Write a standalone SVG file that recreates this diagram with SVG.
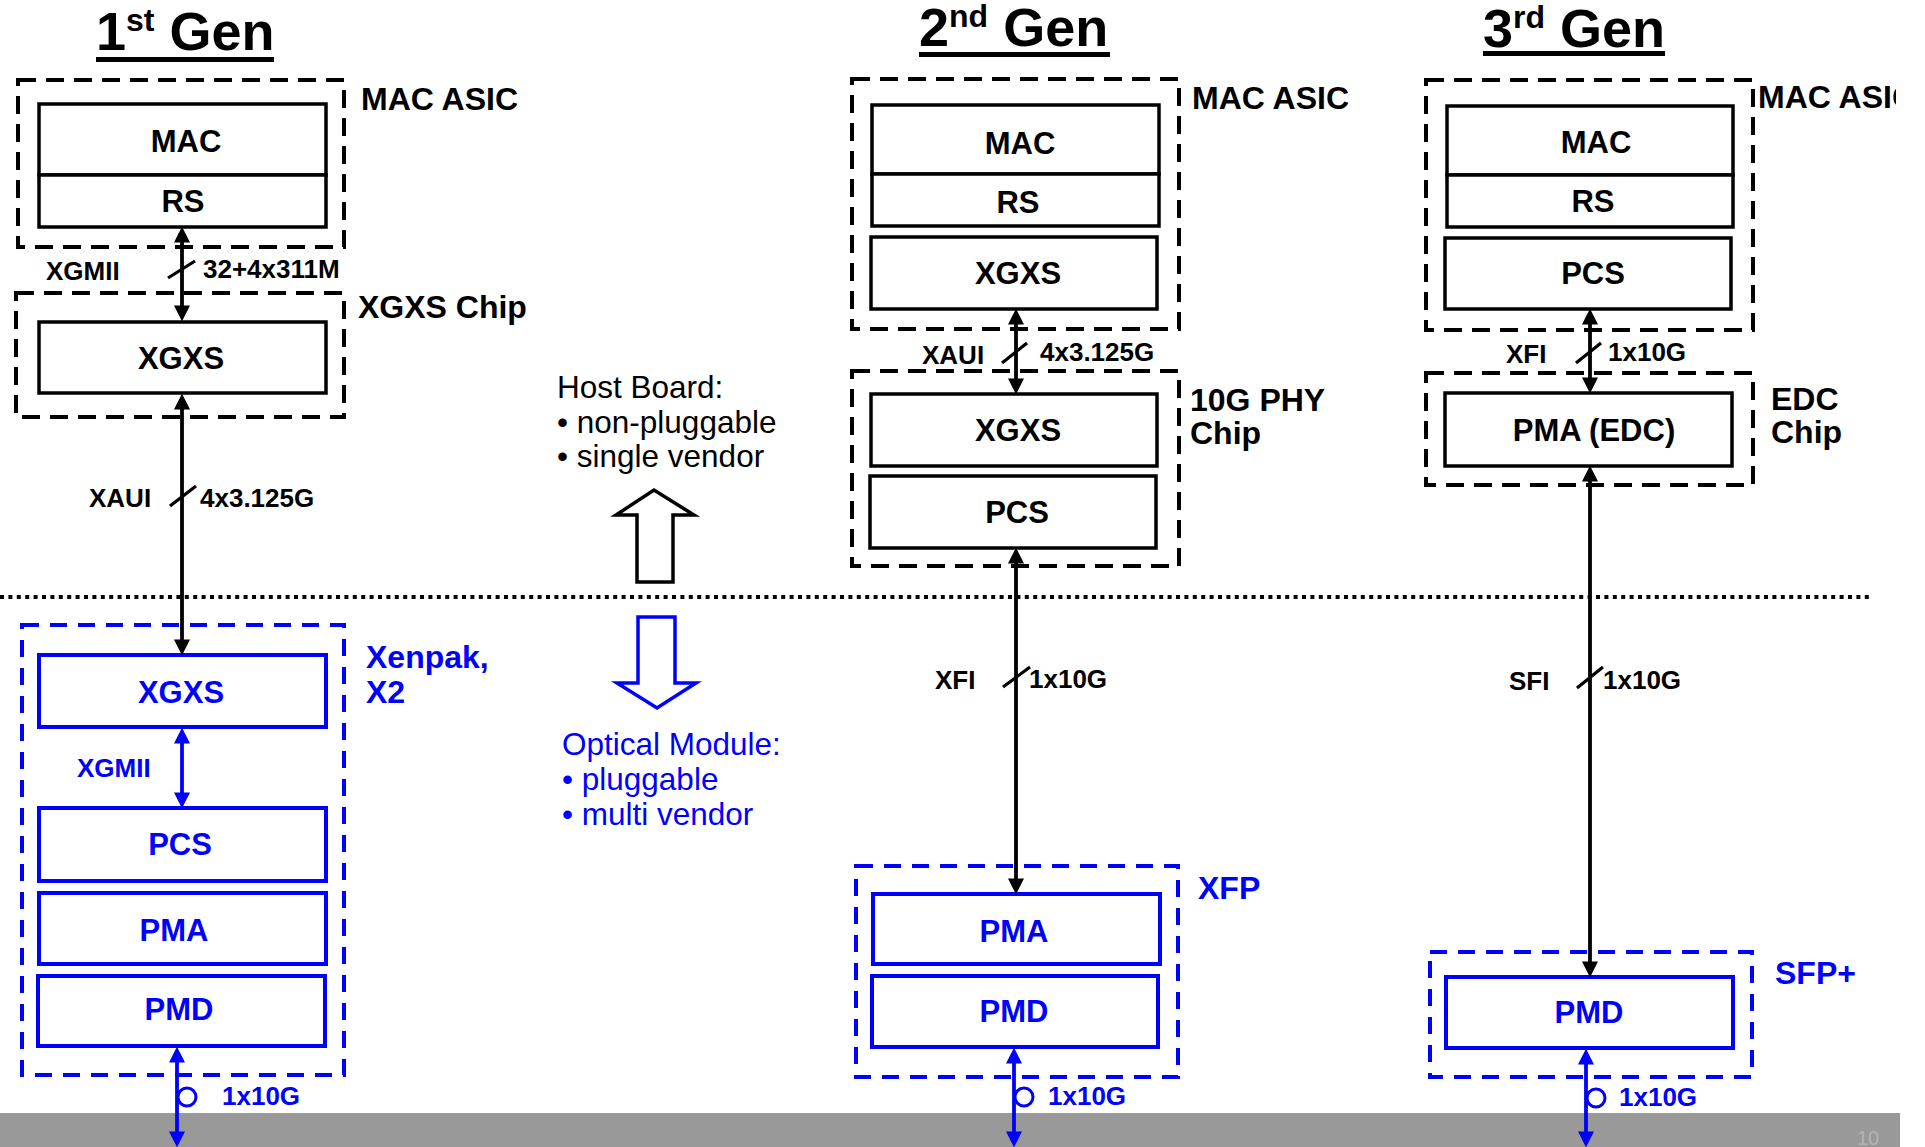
<svg xmlns="http://www.w3.org/2000/svg" width="1925" height="1147" viewBox="0 0 1925 1147">
<style>
text{font-family:"Liberation Sans",Arial,Helvetica,sans-serif}
.b{font-weight:bold}
.box{fill:#fff;stroke:#000;stroke-width:3.5}
.bbox{fill:#fff;stroke:#0000ff;stroke-width:4}
.dash{fill:none;stroke:#000;stroke-width:4;stroke-dasharray:18 10}
.bdash{fill:none;stroke:#0000ff;stroke-width:4;stroke-dasharray:17 11}
.lbl{font-size:31px;font-weight:bold;text-anchor:middle;fill:#000}
.blbl{font-size:31px;font-weight:bold;text-anchor:middle;fill:#0000ff}
.grp{font-size:32px;font-weight:bold;fill:#000}
.bgrp{font-size:32px;font-weight:bold;fill:#0000ff}
.ifc{font-size:26px;font-weight:bold;fill:#000}
.bifc{font-size:26px;font-weight:bold;fill:#0000ff}
.title{font-size:54px;font-weight:bold;fill:#000}
.conn{stroke:#000;stroke-width:3.8;fill:none;marker-start:url(#ah);marker-end:url(#ah)}
.bconn{stroke:#0000ff;stroke-width:3.8;fill:none;marker-start:url(#bah);marker-end:url(#bah)}
.slash{stroke:#000;stroke-width:3.2}
.ring{fill:#fff;stroke:#0000ff;stroke-width:3}
.note{font-size:31.5px;fill:#000}
.bnote{font-size:31.5px;fill:#0000ff}
</style>
<defs>
<marker id="ah" markerUnits="userSpaceOnUse" markerWidth="16" markerHeight="16" viewBox="0 0 15 15" refX="9" refY="7.5" orient="auto-start-reverse"><path d="M0,0 L15,7.5 L0,15 z" fill="#000"/></marker>
<marker id="bah" markerUnits="userSpaceOnUse" markerWidth="16" markerHeight="16" viewBox="0 0 15 15" refX="9" refY="7.5" orient="auto-start-reverse"><path d="M0,0 L15,7.5 L0,15 z" fill="#0000ff"/></marker>
<clipPath id="pageclip"><rect x="0" y="0" width="1896" height="1147"/></clipPath>
</defs>
<rect x="0" y="0" width="1925" height="1147" fill="#fff"/>
<rect id="footer" x="0" y="1113" width="1900" height="34" fill="#999999"/>
<text x="1857" y="1145" font-size="20" fill="#b4b4b4">10</text>

<!-- titles -->
<g id="title1">
<text class="title" x="96" y="50">1<tspan font-size="32" dy="-19">st</tspan><tspan dy="19"> Gen</tspan></text>
<rect x="96" y="57" width="178" height="5" fill="#000"/>
</g>
<g id="title2">
<text class="title" x="919" y="46">2<tspan font-size="32" dy="-19">nd</tspan><tspan dy="19"> Gen</tspan></text>
<rect x="919" y="52" width="191" height="5" fill="#000"/>
</g>
<g id="title3">
<text class="title" x="1483" y="47">3<tspan font-size="32" dy="-19">rd</tspan><tspan dy="19"> Gen</tspan></text>
<rect x="1483" y="51" width="182" height="5" fill="#000"/>
</g>

<!-- separator -->
<line id="separator" x1="0" y1="597" x2="1870" y2="597" stroke="#000" stroke-width="4" stroke-dasharray="4 4.4"/>

<!-- ========== 1st Gen ========== -->
<g id="g1-mac-asic">
<rect class="dash" x="18" y="80" width="326" height="167"/>
<text class="grp" x="361" y="110">MAC ASIC</text>
</g>
<g id="g1-mac"><rect class="box" x="39" y="104" width="287" height="71"/><text class="lbl" x="186" y="152">MAC</text></g>
<g id="g1-rs"><rect class="box" x="39" y="175" width="287" height="52"/><text class="lbl" x="183" y="212">RS</text></g>

<g id="g1-xgxs-chip">
<rect class="dash" x="16" y="293" width="328" height="124"/>
<text class="grp" x="358" y="318">XGXS Chip</text>
</g>
<g id="g1-xgxs"><rect class="box" x="39" y="322" width="287" height="71"/><text class="lbl" x="181" y="369">XGXS</text></g>

<g id="g1-xenpak">
<rect class="bdash" x="22" y="625" width="322" height="450"/>
<text class="bgrp" x="366" y="668">Xenpak,</text>
<text class="bgrp" x="366" y="703">X2</text>
</g>
<g id="g1-xgxs-mod"><rect class="bbox" x="39" y="655" width="287" height="72"/><text class="blbl" x="181" y="703">XGXS</text></g>
<g id="g1-pcs"><rect class="bbox" x="39" y="808" width="287" height="73"/><text class="blbl" x="180" y="855">PCS</text></g>
<g id="g1-pma"><rect class="bbox" x="39" y="893" width="287" height="71"/><text class="blbl" x="174" y="941">PMA</text></g>
<g id="g1-pmd"><rect class="bbox" x="38" y="976" width="287" height="70"/><text class="blbl" x="179" y="1020">PMD</text></g>

<!-- ========== 2nd Gen ========== -->
<g id="g2-mac-asic">
<rect class="dash" x="852" y="79" width="327" height="250"/>
<text class="grp" x="1192" y="109">MAC ASIC</text>
</g>
<g id="g2-mac"><rect class="box" x="872" y="105" width="287" height="69"/><text class="lbl" x="1020" y="154">MAC</text></g>
<g id="g2-rs"><rect class="box" x="872" y="174" width="287" height="52"/><text class="lbl" x="1018" y="213">RS</text></g>
<g id="g2-xgxs-mac"><rect class="box" x="871" y="237" width="286" height="72"/><text class="lbl" x="1018" y="284">XGXS</text></g>

<g id="g2-phy-chip">
<rect class="dash" x="852" y="371" width="327" height="195"/>
<text class="grp" x="1190" y="411">10G PHY</text>
<text class="grp" x="1190" y="444">Chip</text>
</g>
<g id="g2-xgxs-phy"><rect class="box" x="871" y="394" width="286" height="72"/><text class="lbl" x="1018" y="441">XGXS</text></g>
<g id="g2-pcs"><rect class="box" x="870" y="476" width="286" height="72"/><text class="lbl" x="1017" y="523">PCS</text></g>

<g id="g2-xfp">
<rect class="bdash" x="856" y="866" width="322" height="211"/>
<text class="bgrp" x="1198" y="899">XFP</text>
</g>
<g id="g2-pma"><rect class="bbox" x="873" y="894" width="287" height="70"/><text class="blbl" x="1014" y="942">PMA</text></g>
<g id="g2-pmd"><rect class="bbox" x="872" y="976" width="286" height="71"/><text class="blbl" x="1014" y="1022">PMD</text></g>

<!-- ========== 3rd Gen ========== -->
<g id="g3-mac-asic">
<rect class="dash" x="1426" y="80" width="327" height="250"/>
<text class="grp" x="1758" y="108" clip-path="url(#pageclip)">MAC ASIC</text>
</g>
<g id="g3-mac"><rect class="box" x="1447" y="106" width="286" height="69"/><text class="lbl" x="1596" y="153">MAC</text></g>
<g id="g3-rs"><rect class="box" x="1447" y="175" width="286" height="52"/><text class="lbl" x="1593" y="212">RS</text></g>
<g id="g3-pcs"><rect class="box" x="1445" y="238" width="286" height="71"/><text class="lbl" x="1593" y="284">PCS</text></g>

<g id="g3-edc-chip">
<rect class="dash" x="1426" y="373" width="327" height="112"/>
<text class="grp" x="1771" y="410">EDC</text>
<text class="grp" x="1771" y="443">Chip</text>
</g>
<g id="g3-pma-edc"><rect class="box" x="1445" y="393" width="287" height="73"/><text class="lbl" x="1594" y="441">PMA (EDC)</text></g>

<g id="g3-sfp">
<rect class="bdash" x="1430" y="952" width="322" height="125"/>
<text class="bgrp" x="1775" y="984">SFP+</text>
</g>
<g id="g3-pmd"><rect class="bbox" x="1446" y="977" width="287" height="71"/><text class="blbl" x="1589" y="1023">PMD</text></g>

<!-- ========== middle notes ========== -->
<g id="host-board">
<text class="note" x="557" y="398">Host Board:</text>
<text class="note" x="557" y="433">• non-pluggable</text>
<text class="note" x="557" y="467">• single vendor</text>
<polygon points="637,582 637,515 616,515 654,490 694,515 673,515 673,582" fill="#fff" stroke="#000" stroke-width="3.5" stroke-linejoin="miter"/>
</g>
<g id="optical-module">
<polygon points="638,617 675,617 675,683 696,683 657,708 617,683 638,683" fill="#fff" stroke="#0000ff" stroke-width="3.5" stroke-linejoin="miter"/>
<text class="bnote" x="562" y="755">Optical Module:</text>
<text class="bnote" x="562" y="790">• pluggable</text>
<text class="bnote" x="562" y="825">• multi vendor</text>
</g>

<!-- ========== connectors ========== -->
<g id="connectors">
<!-- gen 1 -->
<line class="conn" x1="182" y1="233" x2="182" y2="315"/>
<line class="slash" x1="168" y1="278" x2="195" y2="261"/>
<text class="ifc" x="46" y="280">XGMII</text>
<text class="ifc" x="203" y="278">32+4x311M</text>

<line class="conn" x1="182" y1="400" x2="182" y2="649"/>
<line class="slash" x1="170" y1="506" x2="196" y2="486"/>
<text class="ifc" x="89" y="507">XAUI</text>
<text class="ifc" x="200" y="507">4x3.125G</text>

<line class="bconn" x1="182" y1="734" x2="182" y2="802"/>
<text class="bifc" x="77" y="777">XGMII</text>

<line class="bconn" x1="177" y1="1053" x2="177" y2="1141"/>
<circle class="ring" cx="187" cy="1097" r="9"/>
<text class="bifc" x="222" y="1105">1x10G</text>

<!-- gen 2 -->
<line class="conn" x1="1016" y1="315" x2="1016" y2="388"/>
<line class="slash" x1="1002" y1="363" x2="1027" y2="343"/>
<text class="ifc" x="922" y="364">XAUI</text>
<text class="ifc" x="1040" y="361">4x3.125G</text>

<line class="conn" x1="1016" y1="554" x2="1016" y2="888"/>
<line class="slash" x1="1003" y1="687" x2="1030" y2="667"/>
<text class="ifc" x="935" y="689">XFI</text>
<text class="ifc" x="1029" y="688">1x10G</text>

<line class="bconn" x1="1014" y1="1054" x2="1014" y2="1141"/>
<circle class="ring" cx="1024" cy="1097" r="9"/>
<text class="bifc" x="1048" y="1105">1x10G</text>

<!-- gen 3 -->
<line class="conn" x1="1590" y1="315" x2="1590" y2="387"/>
<line class="slash" x1="1576" y1="363" x2="1601" y2="343"/>
<text class="ifc" x="1506" y="363">XFI</text>
<text class="ifc" x="1608" y="361">1x10G</text>

<line class="conn" x1="1590" y1="472" x2="1590" y2="971"/>
<line class="slash" x1="1577" y1="688" x2="1603" y2="667"/>
<text class="ifc" x="1509" y="690">SFI</text>
<text class="ifc" x="1603" y="689">1x10G</text>

<line class="bconn" x1="1586" y1="1055" x2="1586" y2="1141"/>
<circle class="ring" cx="1596" cy="1098" r="9"/>
<text class="bifc" x="1619" y="1106">1x10G</text>
</g>
</svg>
